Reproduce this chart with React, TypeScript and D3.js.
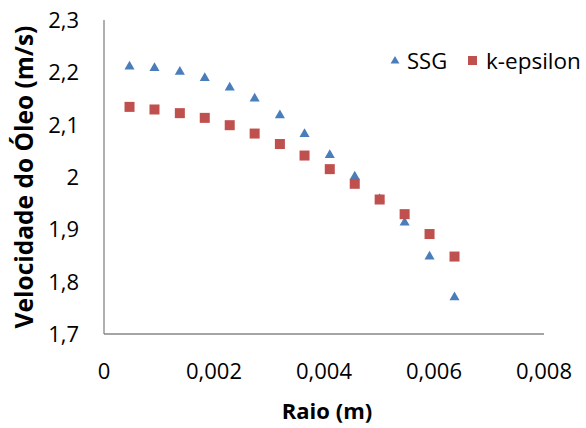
import React from "react";
import * as d3 from "d3";

const radius = [0.000464, 0.000918, 0.001379, 0.001832, 0.002286, 0.002739, 0.003198, 0.003646, 0.004105, 0.004559, 0.005012, 0.005466, 0.005919, 0.006373];
const ssg = [2.211, 2.208, 2.201, 2.189, 2.171, 2.150, 2.118, 2.082, 2.042, 2.001, 1.958, 1.913, 1.848, 1.770];
const kEpsilon = [2.134, 2.129, 2.122, 2.113, 2.099, 2.083, 2.063, 2.041, 2.015, 1.987, 1.957, 1.929, 1.891, 1.848];
const xTicks = [0, 0.002, 0.004, 0.006, 0.008];
const yTicks = [1.7, 1.8, 1.9, 2.0, 2.1, 2.2, 2.3];
const seriesNames = ["SSG", "k-epsilon"];

const W = 586, H = 428;
const L = 104, R = 544, T = 20, B = 334;
const FONT = "'Open Sans', 'Liberation Sans', sans-serif";
const fmt = (v: number) => String(+v.toFixed(4)).replace(".", ",");

export default function App() {
  const x = d3.scaleLinear().domain([0, 0.008]).range([L, R]);
  const y = d3.scaleLinear().domain([1.7, 2.3]).range([B, T]);
  const tri = d3.symbol().type(d3.symbolTriangle).size(44)();
  const blue = "#4A7EBB";
  const red = "#C0504D";
  return (
    <svg width={W} height={H} style={{ position: "absolute", left: 0, top: 0, background: "#fff" }}>
      <rect width={W} height={H} fill="#fff" />
      <line x1={L} x2={L} y1={T} y2={B} stroke="#868686" strokeWidth={1.3} />
      <line x1={L} x2={R} y1={B} y2={B} stroke="#868686" strokeWidth={1.3} />
      {yTicks.map((t) => (
        <text key={t} x={79} y={y(t)} dy="0.36em" textAnchor="end" fontFamily={FONT} fontSize={22} fill="#000">
          {fmt(t)}
        </text>
      ))}
      {xTicks.map((t) => (
        <text key={t} x={x(t)} y={379} textAnchor="middle" fontFamily={FONT} fontSize={22} fill="#000">
          {fmt(t)}
        </text>
      ))}
      <text x={327} y={419} textAnchor="middle" fontFamily={FONT} fontSize={22} fontWeight="bold">Raio (m)</text>
      <text transform={`translate(33,${(T + B) / 2}) rotate(-90)`} textAnchor="middle" fontFamily={FONT} fontSize={24.5} fontWeight="bold">
        Velocidade do Óleo (m/s)
      </text>
      {radius.map((r, i) => (
        <path key={"t" + i} d={tri} transform={`translate(${x(r)},${y(ssg[i])})`} fill={blue} />
      ))}
      {radius.map((r, i) => (
        <rect key={"s" + i} x={x(r) - 5} y={y(kEpsilon[i]) - 5} width={10} height={10} fill={red} />
      ))}
      <path d={d3.symbol().type(d3.symbolTriangle).size(34)()} transform="translate(395,61)" fill={blue} />
      <text x={407} y={61} dy="0.36em" fontFamily={FONT} fontSize={22}>{seriesNames[0]}</text>
      <rect x={468} y={56} width={9} height={9} fill={red} />
      <text x={486} y={61} dy="0.36em" fontFamily={FONT} fontSize={22.5}>{seriesNames[1]}</text>
    </svg>
  );
}
